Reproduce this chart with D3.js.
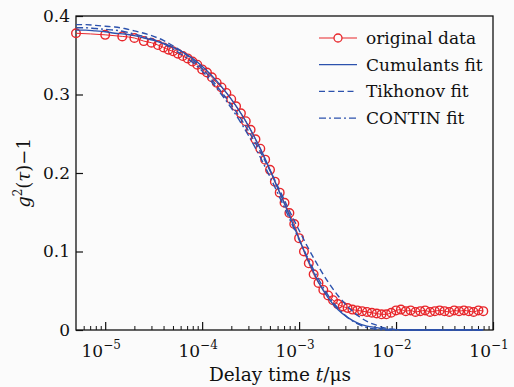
<!DOCTYPE html>
<html>
<head>
<meta charset="utf-8">
<script src="https://cdn.jsdelivr.net/npm/d3@7"></script>
<style>
  body { margin: 0; background: #fbfbfb; }
  svg { display: block; }
  svg text { font-family: "DejaVu Serif", serif; }
</style>
</head>
<body>
<div id="chart"></div>
<script>
// log10 of delay time (us) for measured points, and g2-1 values
const dataLogT = [-5.301, -5.0, -4.824, -4.699, -4.602, -4.523, -4.456, -4.398, -4.347, -4.301,
  -4.25, -4.2, -4.15, -4.1, -4.05, -4.0, -3.95, -3.9, -3.85, -3.8, -3.75, -3.7, -3.65, -3.6,
  -3.55, -3.5, -3.45, -3.4, -3.35, -3.3, -3.25, -3.2, -3.15, -3.1, -3.05, -3.0, -2.95, -2.9,
  -2.85, -2.8, -2.75, -2.7, -2.65, -2.6, -2.55, -2.5, -2.45, -2.4, -2.35, -2.3, -2.25, -2.2,
  -2.15, -2.1, -2.05, -2.0, -1.95, -1.9, -1.85, -1.8, -1.75, -1.7, -1.65, -1.6, -1.55, -1.5,
  -1.45, -1.4, -1.35, -1.3, -1.25, -1.2, -1.15, -1.1];
const dataValues = [0.378, 0.376, 0.374, 0.372, 0.368, 0.366, 0.363, 0.360, 0.357, 0.355,
  0.352, 0.349, 0.346, 0.342, 0.338, 0.332, 0.328, 0.322, 0.315, 0.309, 0.302, 0.294, 0.285, 0.276,
  0.266, 0.255, 0.243, 0.231, 0.217, 0.204, 0.189, 0.175, 0.162, 0.149, 0.135, 0.117, 0.100, 0.085,
  0.071, 0.060, 0.051, 0.044, 0.038, 0.033, 0.030, 0.028, 0.026, 0.025, 0.024, 0.023, 0.022, 0.021,
  0.020, 0.020, 0.022, 0.025, 0.026, 0.024, 0.025, 0.023, 0.024, 0.025, 0.023, 0.024, 0.025, 0.024,
  0.023, 0.025, 0.024, 0.025, 0.024, 0.023, 0.025, 0.024];

// fitted curves, sampled on a common log-time grid
const fitLogT = [-5.3, -5.2, -5.1, -5.0, -4.9, -4.8, -4.7, -4.6, -4.5, -4.4, -4.3, -4.2, -4.1,
  -4.0, -3.9, -3.8, -3.7, -3.6, -3.5, -3.4, -3.3, -3.2, -3.1, -3.0, -2.9, -2.8, -2.7, -2.6,
  -2.5, -2.4, -2.3, -2.2, -2.1, -2.0, -1.9, -1.8, -1.6, -1.4, -1.2, -1.1];
const cumulantsFit = [0.382, 0.382, 0.381, 0.380, 0.378, 0.377, 0.375, 0.372, 0.369, 0.365, 0.360,
  0.354, 0.346, 0.336, 0.324, 0.310, 0.294, 0.276, 0.255, 0.231, 0.204, 0.175, 0.146, 0.116, 0.087,
  0.061, 0.041, 0.026, 0.016, 0.009, 0.005, 0.003, 0.001, 0.0005, 0, 0, 0, 0, 0, 0];
const tikhonovFit = [0.389, 0.389, 0.388, 0.387, 0.386, 0.384, 0.381, 0.378, 0.374, 0.369, 0.362,
  0.354, 0.344, 0.333, 0.319, 0.303, 0.287, 0.269, 0.249, 0.227, 0.203, 0.178, 0.152, 0.127, 0.103,
  0.081, 0.061, 0.044, 0.030, 0.019, 0.011, 0.006, 0.002, 0.0005, 0, 0, 0, 0, 0, 0];
const continFit = [0.385, 0.385, 0.384, 0.383, 0.382, 0.380, 0.377, 0.374, 0.370, 0.365, 0.358,
  0.350, 0.341, 0.330, 0.316, 0.300, 0.283, 0.264, 0.243, 0.220, 0.195, 0.169, 0.142, 0.115, 0.089,
  0.065, 0.044, 0.028, 0.016, 0.008, 0.003, 0.001, 0, 0, 0, 0, 0, 0, 0, 0];

const yTicks = [0, 0.1, 0.2, 0.3, 0.4];
const yTickLabels = ["0", "0.1", "0.2", "0.3", "0.4"];
const xTickExps = [-5, -4, -3, -2, -1];
const legendNames = ["original data", "Cumulants fit", "Tikhonov fit", "CONTIN fit"];

const width = 514, height = 387;
const red = "#e8262b";
const blue = "#2c52ad";

const svg = d3.select("#chart").append("svg")
  .attr("width", width)
  .attr("height", height);

const x = d3.scaleLog().domain([5e-6, 0.1]).range([76, 493]);
const y = d3.scaleLinear().domain([0, 0.4]).range([330, 16]);

// minor ticks 2..9 x 10^n inside the domain
const minor = [];
[-6, -5, -4, -3, -2].forEach(e => {
  for (let k = 2; k <= 9; k++) {
    const v = k * Math.pow(10, e);
    if (v > 5e-6 && v < 0.1) minor.push(v);
  }
});
const major = xTickExps.map(e => Math.pow(10, e));

// x axis ticks (inward)
svg.append("g")
  .attr("transform", `translate(0,${y(0)})`)
  .call(d3.axisBottom(x).tickValues(minor).tickSize(-4).tickFormat(""))
  .call(g => g.select(".domain").remove())
  .selectAll("line").attr("stroke", "#111").attr("stroke-width", 1);
svg.append("g")
  .attr("transform", `translate(0,${y(0)})`)
  .call(d3.axisBottom(x).tickValues(major).tickSize(-8).tickFormat(""))
  .call(g => g.select(".domain").remove())
  .selectAll("line").attr("stroke", "#111").attr("stroke-width", 1.2);

// y axis ticks (inward)
svg.append("g")
  .attr("transform", `translate(${x.range()[0]},0)`)
  .call(d3.axisRight(y).tickValues(yTicks).tickSize(7).tickFormat(""))
  .call(g => g.select(".domain").remove())
  .selectAll("line").attr("stroke", "#111").attr("stroke-width", 1.2);

// frame
svg.append("rect")
  .attr("x", x.range()[0]).attr("y", y(0.4))
  .attr("width", x.range()[1] - x.range()[0])
  .attr("height", y(0) - y(0.4))
  .attr("fill", "none").attr("stroke", "#111").attr("stroke-width", 1.3);

// y tick labels
yTicks.forEach((t, i) => {
  svg.append("text")
    .attr("x", x.range()[0] - 6)
    .attr("y", y(t))
    .attr("dy", "0.35em")
    .attr("text-anchor", "end")
    .attr("font-size", 17)
    .attr("fill", "#111")
    .text(yTickLabels[i]);
});

// x tick labels 10^n
xTickExps.forEach(e => {
  const t = svg.append("text")
    .attr("x", x(Math.pow(10, e)) - 4)
    .attr("y", 357)
    .attr("text-anchor", "middle")
    .attr("font-size", 17)
    .attr("fill", "#111");
  t.append("tspan").text("10");
  t.append("tspan").attr("font-size", 12).attr("dy", -8).text("\u2212" + Math.abs(e));
});

// axis titles
const xt = svg.append("text")
  .attr("x", 280).attr("y", 381)
  .attr("text-anchor", "middle")
  .attr("font-size", 18.5).attr("fill", "#111");
xt.append("tspan").text("Delay time ");
xt.append("tspan").attr("font-style", "italic").text("t");
xt.append("tspan").text("/\u03bcs");

const yt = svg.append("text")
  .attr("transform", "translate(30,173) rotate(-90)")
  .attr("text-anchor", "middle")
  .attr("font-size", 18).attr("fill", "#111");
yt.append("tspan").attr("font-style", "italic").text("g");
yt.append("tspan").attr("font-size", 12).attr("dy", -8).text("2");
yt.append("tspan").attr("dy", 8).text("(");
yt.append("tspan").attr("font-style", "italic").text("\u03c4");
yt.append("tspan").text(")\u22121");

// curves
const plot = svg.append("g");
const curveLine = d3.line()
  .x(d => x(Math.pow(10, d[0])))
  .y(d => y(d[1]))
  .curve(d3.curveMonotoneX);

const fits = [
  { vals: cumulantsFit, dash: null },
  { vals: tikhonovFit, dash: "6,3.5" },
  { vals: continFit, dash: "7,3,2,3" }
];

const dataPts = dataLogT.map((l, i) => [l, dataValues[i]]);
plot.append("path")
  .datum(dataPts)
  .attr("fill", "none")
  .attr("stroke", red)
  .attr("stroke-width", 1)
  .attr("d", curveLine);

plot.selectAll("circle.pt")
  .data(dataPts)
  .join("circle")
  .attr("class", "pt")
  .attr("cx", d => x(Math.pow(10, d[0])))
  .attr("cy", d => y(d[1]))
  .attr("r", 4.3)
  .attr("fill", "none")
  .attr("stroke", red)
  .attr("stroke-width", 1.4);

fits.forEach(f => {
  plot.append("path")
    .datum(fitLogT.map((l, i) => [l, f.vals[i]]))
    .attr("fill", "none")
    .attr("stroke", blue)
    .attr("stroke-width", 1.4)
    .attr("stroke-dasharray", f.dash)
    .attr("d", curveLine);
});

// legend
const legend = svg.append("g");
legendNames.forEach((name, i) => {
  const ly = 38 + i * 26.7;
  const stroke = i === 0 ? red : blue;
  legend.append("line")
    .attr("x1", 319).attr("x2", 357)
    .attr("y1", ly).attr("y2", ly)
    .attr("stroke", stroke)
    .attr("stroke-width", i === 0 ? 1.1 : 1.3)
    .attr("stroke-dasharray", i === 0 ? null : fits[i - 1].dash);
  if (i === 0) {
    legend.append("circle")
      .attr("cx", 338).attr("cy", ly).attr("r", 4)
      .attr("fill", "#fbfbfb").attr("stroke", red).attr("stroke-width", 1.3);
  }
  legend.append("text")
    .attr("x", 366).attr("y", ly)
    .attr("dy", "0.35em")
    .attr("font-size", 17).attr("fill", "#111")
    .text(name);
});
</script>
</body>
</html>
